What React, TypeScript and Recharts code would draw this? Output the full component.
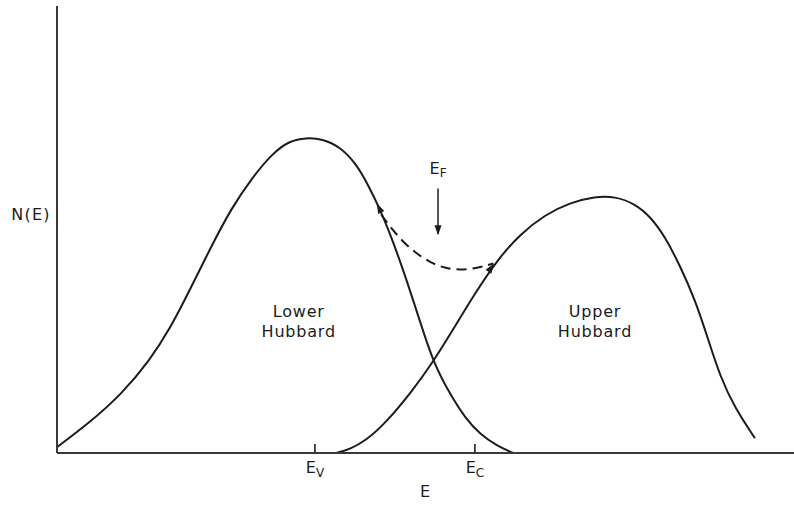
import React from "react";
import {
  ComposedChart,
  Line,
  Scatter,
  XAxis,
  YAxis,
  ReferenceLine,
  Label,
} from "recharts";

// Density of states N(E) for the lower and upper Hubbard bands (arbitrary units)
const lowerBand = [
  { E: 0.0, N: 0.013 },
  { E: 0.42, N: 0.065 },
  { E: 0.88, N: 0.132 },
  { E: 1.26, N: 0.208 },
  { E: 1.53, N: 0.277 },
  { E: 1.8, N: 0.364 },
  { E: 2.08, N: 0.458 },
  { E: 2.37, N: 0.549 },
  { E: 2.65, N: 0.616 },
  { E: 2.92, N: 0.67 },
  { E: 3.16, N: 0.699 },
  { E: 3.38, N: 0.705 },
  { E: 3.6, N: 0.703 },
  { E: 3.84, N: 0.685 },
  { E: 4.06, N: 0.647 },
  { E: 4.22, N: 0.6 },
  { E: 4.38, N: 0.547 },
  { E: 4.57, N: 0.469 },
  { E: 4.75, N: 0.384 },
  { E: 4.93, N: 0.292 },
  { E: 5.1, N: 0.205 },
  { E: 5.33, N: 0.132 },
  { E: 5.54, N: 0.078 },
  { E: 5.74, N: 0.042 },
  { E: 5.97, N: 0.016 },
  { E: 6.19, N: 0.0 },
];

const upperBand = [
  { E: 3.79, N: 0.0 },
  { E: 3.98, N: 0.009 },
  { E: 4.18, N: 0.027 },
  { E: 4.45, N: 0.065 },
  { E: 4.83, N: 0.141 },
  { E: 5.1, N: 0.203 },
  { E: 5.37, N: 0.275 },
  { E: 5.67, N: 0.357 },
  { E: 5.97, N: 0.431 },
  { E: 6.28, N: 0.489 },
  { E: 6.62, N: 0.533 },
  { E: 6.96, N: 0.56 },
  { E: 7.3, N: 0.574 },
  { E: 7.57, N: 0.574 },
  { E: 7.84, N: 0.558 },
  { E: 8.05, N: 0.529 },
  { E: 8.25, N: 0.484 },
  { E: 8.45, N: 0.42 },
  { E: 8.66, N: 0.342 },
  { E: 8.83, N: 0.257 },
  { E: 9.0, N: 0.17 },
  { E: 9.2, N: 0.1 },
  { E: 9.47, N: 0.033 },
];

// Combined density across the gap (dashed)
const combined = [
  { E: 4.4, N: 0.533 },
  { E: 4.69, N: 0.469 },
  { E: 5.06, N: 0.424 },
  { E: 5.37, N: 0.408 },
  { E: 5.7, N: 0.413 },
  { E: 5.92, N: 0.424 },
];

// Band edges and Fermi level
const E_V = 3.5;
const E_C = 5.67;
const E_F = 5.17;
const edgeTicks = [
  { value: E_V, sub: "V" },
  { value: E_C, sub: "C" },
];

// Fermi-level arrow: shaft from top to tip
const fermiArrow = { E: E_F, top: 0.592, tip: 0.49 };

// Arrowheads (tip position + heading in degrees, screen space)
const arrowHeads = [
  { E: 4.34, N: 0.558, angle: -116 },
  { E: 5.93, N: 0.424, angle: -56 },
  { E: E_F, N: 0.487, angle: 90 },
];

// Text annotations
const bandLabels = [
  { E: 3.28, N: 0.304, lines: ["Lower", "Hubbard"] },
  { E: 7.3, N: 0.304, lines: ["Upper", "Hubbard"] },
];
const fermiLabel = [{ E: E_F, N: 0.625, main: "E", sub: "F" }];

const INK = "#1c1c1c";
const AXIS = "#3a3a3a";
const FONT = "'DejaVu Sans', sans-serif";

const ArrowHead = (props: any) => {
  const { cx, cy, payload } = props;
  if (cx == null || cy == null) return null;
  return (
    <polygon
      points="0,0 -10,-3.5 -10,3.5"
      fill={INK}
      transform={`translate(${cx},${cy}) rotate(${payload.angle})`}
    />
  );
};

const BandLabel = (props: any) => {
  const { cx, cy, payload } = props;
  if (cx == null || cy == null) return null;
  return (
    <text
      x={cx}
      y={cy}
      textAnchor="middle"
      fontFamily={FONT}
      fontSize={16}
      letterSpacing={0.8}
      fill={INK}
    >
      {payload.lines.map((t: string, i: number) => (
        <tspan key={i} x={cx} dy={i === 0 ? 0 : 20}>
          {t}
        </tspan>
      ))}
    </text>
  );
};

const SubLabel = (props: any) => {
  const { cx, cy, payload } = props;
  if (cx == null || cy == null) return null;
  return (
    <text x={cx} y={cy} textAnchor="middle" fontFamily={FONT} fill={INK}>
      <tspan fontSize={16}>{payload.main}</tspan>
      <tspan fontSize={12} dy={3}>
        {payload.sub}
      </tspan>
    </text>
  );
};

const EdgeTick = (props: any) => {
  const { x, y, payload } = props;
  const item = edgeTicks.find((t) => Math.abs(t.value - payload.value) < 1e-6);
  return (
    <g>
      <line x1={x} y1={y} x2={x} y2={y - 9} stroke={INK} strokeWidth={1.6} />
      <text x={x} y={y + 20} textAnchor="middle" fontFamily={FONT} fill={INK}>
        <tspan fontSize={16}>E</tspan>
        <tspan fontSize={12} dy={4}>
          {item ? item.sub : ""}
        </tspan>
      </text>
    </g>
  );
};

export default function App() {
  return (
    <div style={{ position: "absolute", left: 0, top: 0, background: "#fff" }}>
      <ComposedChart
        width={794}
        height={506}
        margin={{ top: 6, right: 0, bottom: 52, left: 56 }}
      >
        <XAxis
          dataKey="E"
          type="number"
          domain={[0, 10]}
          ticks={edgeTicks.map((t) => t.value)}
          tick={<EdgeTick />}
          tickLine={false}
          tickSize={0}
          tickMargin={0}
          height={1}
          axisLine={{ stroke: AXIS, strokeWidth: 2 }}
          allowDataOverflow
        >
          <Label
            content={(p: any) => {
              const vb = p.viewBox || {};
              return (
                <text
                  x={vb.x + 368}
                  y={497}
                  textAnchor="middle"
                  fontFamily={FONT}
                  fontSize={16}
                  fill={INK}
                >
                  E
                </text>
              );
            }}
          />
        </XAxis>
        <YAxis
          dataKey="N"
          type="number"
          domain={[0, 1]}
          width={1}
          tick={false}
          tickLine={false}
          axisLine={{ stroke: AXIS, strokeWidth: 2 }}
          allowDataOverflow
        >
          <Label
            content={() => (
              <text
                x={31}
                y={220}
                textAnchor="middle"
                fontFamily={FONT}
                fontSize={16}
                letterSpacing={1.2}
                fill={INK}
              >
                N(E)
              </text>
            )}
          />
        </YAxis>

        <Line
          data={lowerBand}
          dataKey="N"
          type="basis"
          stroke={INK}
          strokeWidth={2}
          dot={false}
          isAnimationActive={false}
        />
        <Line
          data={upperBand}
          dataKey="N"
          type="basis"
          stroke={INK}
          strokeWidth={2}
          dot={false}
          isAnimationActive={false}
        />
        <Line
          data={combined}
          dataKey="N"
          type="basis"
          stroke={INK}
          strokeWidth={2}
          strokeDasharray="10 6"
          dot={false}
          isAnimationActive={false}
        />

        <ReferenceLine
          segment={[
            { x: fermiArrow.E, y: fermiArrow.top },
            { x: fermiArrow.E, y: fermiArrow.tip },
          ]}
          stroke={INK}
          strokeWidth={1.5}
        />

        <Scatter
          data={arrowHeads}
          dataKey="N"
          shape={<ArrowHead />}
          isAnimationActive={false}
        />
        <Scatter
          data={bandLabels}
          dataKey="N"
          shape={<BandLabel />}
          isAnimationActive={false}
        />
        <Scatter
          data={fermiLabel}
          dataKey="N"
          shape={<SubLabel />}
          isAnimationActive={false}
        />
      </ComposedChart>
    </div>
  );
}
